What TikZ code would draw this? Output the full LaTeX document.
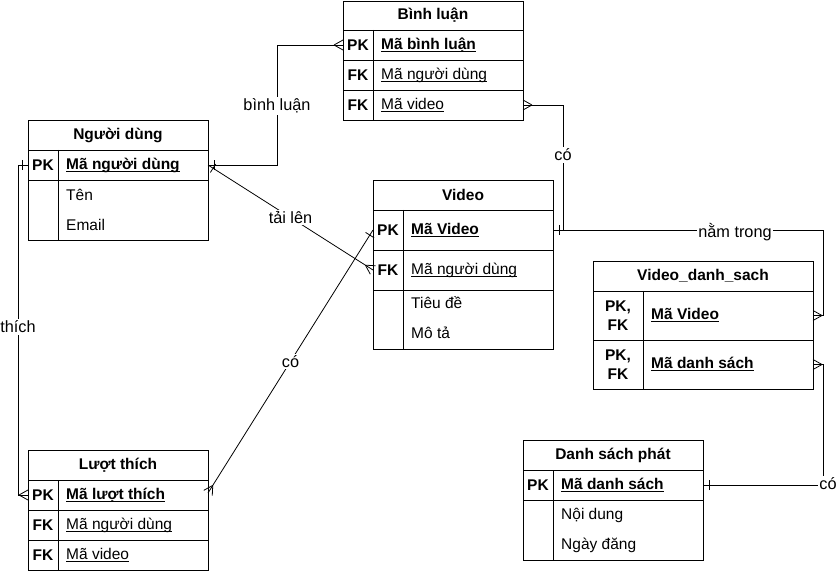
\documentclass[tikz,border=0pt]{standalone}
\usepackage{fontspec}
\setmainfont{Liberation Sans}
\usetikzlibrary{decorations.markings}
\newcommand\ulx[1]{\setbox0\hbox{#1}\rlap{\rule[-2.6pt]{\wd0}{0.9pt}}\box0}
\newcommand\fsz{\fontsize{15.5}{17}\selectfont}
\newcommand\lsz{\fontsize{16.3}{18}\selectfont}
\tikzset{
  tb/.style={draw, line width=0.8pt, anchor=north west, inner sep=0pt, outer sep=0pt, minimum width=180pt},
  hdr/.style={font=\fsz\bfseries, inner sep=0pt},
  key/.style={font=\fsz\bfseries, inner sep=0pt, align=center},
  fld/.style={font=\fsz, anchor=west, inner sep=0pt},
  bfld/.style={font=\fsz\bfseries, anchor=west, inner sep=0pt},
  conn/.style={line width=0.8pt},
  lbl/.style={font=\lsz, fill=white, inner sep=1.5pt},
  mk/.style={line width=0.8pt},
  barE/.style={postaction={decorate,decoration={markings,mark=at position -6pt with {\draw[mk] (0,-5pt)--(0,5pt);}}}},
  barS/.style={postaction={decorate,decoration={markings,mark=at position 6pt with {\draw[mk] (0,-5pt)--(0,5pt);}}}},
  crowE/.style={postaction={decorate,decoration={markings,mark=at position -9pt with {\draw[mk] (0,0)--(9pt,5pt) (0,0)--(9pt,-5pt);}}}},
  crowS/.style={postaction={decorate,decoration={markings,mark=at position 9pt with {\draw[mk] (0,0)--(-9pt,5pt) (0,0)--(-9pt,-5pt);}}}},
}
\begin{document}
\begin{tikzpicture}[x=1pt,y=-1pt]
\useasboundingbox (0,0) rectangle (836,572);
\fill[white] (0,0) rectangle (836,572);

% ---- Nguoi dung
\node[tb, minimum height=30pt] (nd) at (28,120) {};
\node[hdr] at (nd.center) {Người dùng};
\node[tb, minimum height=30pt] (ndpk) at (28,150) {};
\node[tb, minimum height=60pt] (ndat) at (28,180) {};
\draw[line width=0.8pt] (58,150) -- (58,240);
\node[key] at (43,165) {PK};
\node[bfld] at (66,165) {\ulx{Mã người dùng}};
\node[fld] at (66,195) {Tên};
\node[fld] at (66,225) {Email};

% ---- Binh luan
\node[tb, minimum height=29pt] (bl) at (343,1) {};
\node[hdr] at (bl.center) {Bình luận};
\node[tb, minimum height=30pt] (blpk) at (343,30) {};
\node[tb, minimum height=30pt] (blnd) at (343,60) {};
\node[tb, minimum height=30pt] (blvid) at (343,90) {};
\draw[line width=0.8pt] (373,30) -- (373,120);
\node[key] at (358,45) {PK};
\node[key] at (358,75) {FK};
\node[key] at (358,105) {FK};
\node[bfld] at (381,45) {\ulx{Mã bình luận}};
\node[fld] at (381,75) {\ulx{Mã người dùng}};
\node[fld] at (381,105) {\ulx{Mã video}};

% ---- Video
\node[tb, minimum height=30pt] (v) at (373,180) {};
\node[hdr] at (v.center) {Video};
\node[tb, minimum height=40pt] (vpk) at (373,210) {};
\node[tb, minimum height=40pt] (vfk) at (373,250) {};
\node[tb, minimum height=59pt] (vat) at (373,290) {};
\draw[line width=0.8pt] (403,210) -- (403,349);
\node[key] at (388,230) {PK};
\node[key] at (388,270) {FK};
\node[bfld] at (411,230) {\ulx{Mã Video}};
\node[fld] at (411,270) {\ulx{Mã người dùng}};
\node[fld] at (411,303) {Tiêu đề};
\node[fld] at (411,333) {Mô tả};

% ---- Luot thich
\node[tb, minimum height=30pt] (lt) at (28,450) {};
\node[hdr] at (lt.center) {Lượt thích};
\node[tb, minimum height=30pt] (ltpk) at (28,480) {};
\node[tb, minimum height=30pt] (ltnd) at (28,510) {};
\node[tb, minimum height=30pt] (ltvid) at (28,540) {};
\draw[line width=0.8pt] (58,480) -- (58,570);
\node[key] at (43,495) {PK};
\node[key] at (43,525) {FK};
\node[key] at (43,555) {FK};
\node[bfld] at (66,495) {\ulx{Mã lượt thích}};
\node[fld] at (66,525) {\ulx{Mã người dùng}};
\node[fld] at (66,555) {\ulx{Mã video}};

% ---- Video_danh_sach
\node[tb, minimum width=220pt, minimum height=30pt] (vds) at (593,261) {};
\node[hdr] at (vds.center) {Video\_danh\_sach};
\node[tb, minimum width=220pt, minimum height=49pt] (vds1) at (593,291) {};
\node[tb, minimum width=220pt, minimum height=49pt] (vds2) at (593,340) {};
\draw[line width=0.8pt] (643,291) -- (643,389);
\node[key, font=\bfseries\fontsize{15.5}{19}\selectfont] at (618,315.5) {PK,\\FK};
\node[key, font=\bfseries\fontsize{15.5}{19}\selectfont] at (618,364.5) {PK,\\FK};
\node[bfld] at (651,315) {\ulx{Mã Video}};
\node[bfld] at (651,364) {\ulx{Mã danh sách}};

% ---- Danh sach phat
\node[tb, minimum height=30pt] (dsp) at (523,440) {};
\node[hdr] at (dsp.center) {Danh sách phát};
\node[tb, minimum height=30pt] (dsppk) at (523,470) {};
\node[tb, minimum height=60pt] (dspat) at (523,500) {};
\draw[line width=0.8pt] (553,470) -- (553,560);
\node[key] at (538,485) {PK};
\node[bfld] at (561,485) {\ulx{Mã danh sách}};
\node[fld] at (561,515) {Nội dung};
\node[fld] at (561,545) {Ngày đăng};

% ---- connectors
\draw[conn, barS, crowE] (ndpk.east) -- ++(69,0) |- (blpk.west);
\draw[conn, barS, crowE] (ndpk.east) -- node[lbl] {tải lên} (vfk.west);
\draw[conn, crowS, barE] (blvid.east) -- ++(40,0) |- (vpk.east);
\draw[conn, barS, crowE] (vpk.east) -- ++(270,0) |- (vds1.east);
\draw[conn, barS, crowE] (dsppk.east) -- ++(120,0) |- (vds2.east);
\draw[conn, barS, crowE] (ndpk.west) -- ++(-10,0) |- (ltpk.west);
\draw[conn, barS, crowE] (vpk.west) -- node[lbl] {có} ([yshift=2pt]ltpk.east);

% ---- labels
\node[lbl] at (277,106) {bình luận};
\node[lbl] at (563,155) {có};
\node[lbl] at (735,232) {nằm trong};
\node[lbl] at (18,327) {thích};
\node[lbl] at (828,484) {có};
\end{tikzpicture}
\end{document}
